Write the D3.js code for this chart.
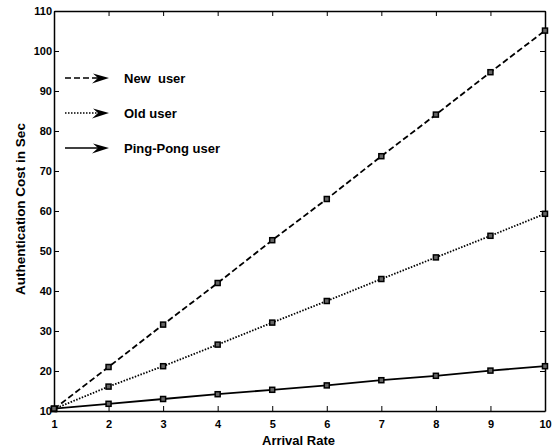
<!DOCTYPE html>
<html>
<head>
<meta charset="utf-8">
<script src="https://cdn.jsdelivr.net/npm/d3@7"></script>
<style>
  body { margin: 0; background: #fff; }
  text { font-family: "Liberation Sans", Arial, sans-serif; font-weight: bold; fill: #000; }
</style>
</head>
<body>
<div class="chart"></div>
<script>
// data
var arrivalRate = [1, 2, 3, 4, 5, 6, 7, 8, 9, 10];
var newUser = [10.5, 21, 31.6, 42, 52.7, 63, 73.7, 84.1, 94.7, 105.1];
var oldUser = [10.5, 16.1, 21.2, 26.6, 32.1, 37.5, 43, 48.4, 53.8, 59.3];
var pingPongUser = [10.6, 11.8, 13, 14.2, 15.3, 16.4, 17.7, 18.8, 20.1, 21.2];
var seriesNames = ["New  user", "Old user", "Ping-Pong user"];
var yTicks = [10, 20, 30, 40, 50, 60, 70, 80, 90, 100, 110];

var svgWidth = 552;
var svgHeight = 448;
var margin = { top: 11, right: 7, bottom: 37, left: 54 };
var width = svgWidth - margin.left - margin.right;
var height = svgHeight - margin.top - margin.bottom;

var svg = d3.select(".chart")
  .append("svg")
  .attr("width", svgWidth)
  .attr("height", svgHeight)
  .append("g")
  .attr("transform", "translate(" + margin.left + "," + margin.top + ")");

var xScale = d3.scaleLinear().domain([1, 10]).range([0, width]);
var yScale = d3.scaleLinear().domain([10, 110]).range([height, 0]);

// axes, matlab style: ticks pointing inward on all four sides
var tickLen = 5;
var bottomAxis = d3.axisBottom(xScale).tickValues(arrivalRate).tickSizeInner(-tickLen).tickSizeOuter(0).tickPadding(9);
var leftAxis = d3.axisLeft(yScale).tickValues(yTicks).tickSizeInner(-tickLen).tickSizeOuter(0).tickPadding(2);
var topAxis = d3.axisTop(xScale).tickValues(arrivalRate).tickSizeInner(-tickLen).tickSizeOuter(0).tickFormat("");
var rightAxis = d3.axisRight(yScale).tickValues(yTicks).tickSizeInner(-tickLen).tickSizeOuter(0).tickFormat("");

function styleAxis(g) {
  g.select(".domain").attr("stroke", "#000").attr("stroke-width", 1.5);
  g.selectAll(".tick line").attr("stroke", "#000").attr("stroke-width", 1);
  g.selectAll(".tick text").style("font-size", "11px").style("font-weight", "bold").attr("fill", "#000");
}

svg.append("g").attr("transform", "translate(0," + height + ")").call(bottomAxis).call(styleAxis);
svg.append("g").call(leftAxis).call(styleAxis);
svg.append("g").call(topAxis).call(styleAxis);
svg.append("g").attr("transform", "translate(" + width + ",0)").call(rightAxis).call(styleAxis);

var series = [
  { name: seriesNames[0], values: newUser, dash: "6,3" },
  { name: seriesNames[1], values: oldUser, dash: "1.5,1.5" },
  { name: seriesNames[2], values: pingPongUser, dash: null }
];

var line = d3.line()
  .x(function(d, i) { return xScale(arrivalRate[i]); })
  .y(function(d) { return yScale(d); });

series.forEach(function(s) {
  svg.append("path")
    .datum(s.values)
    .attr("fill", "none")
    .attr("stroke", "#000")
    .attr("stroke-width", 1.8)
    .attr("stroke-dasharray", s.dash)
    .attr("d", line);

  svg.selectAll(null)
    .data(s.values)
    .enter()
    .append("rect")
    .attr("x", function(d, i) { return xScale(arrivalRate[i]) - 2.5; })
    .attr("y", function(d) { return yScale(d) - 2.5; })
    .attr("width", 5)
    .attr("height", 5)
    .attr("fill", "#666")
    .attr("stroke", "#000")
    .attr("stroke-width", 1.5);
});

// legend with barbed arrows
var legend = svg.append("g").attr("transform", "translate(11,67)");
series.forEach(function(s, i) {
  var y = i * 35;
  legend.append("line")
    .attr("x1", 0).attr("x2", 40)
    .attr("y1", y).attr("y2", y)
    .attr("stroke", "#000")
    .attr("stroke-width", 1.6)
    .attr("stroke-dasharray", s.dash);
  legend.append("path")
    .attr("d", "M44," + y + " l-16,-4.5 l5,4.5 l-6,5.5 z")
    .attr("fill", "#000");
  legend.append("text")
    .attr("x", 59)
    .attr("y", y + 5)
    .style("font-size", "13px")
    .style("white-space", "pre")
    .attr("xml:space", "preserve")
    .text(s.name);
});

svg.append("text")
  .attr("transform", "rotate(-90)")
  .attr("x", -(height / 2) + 2)
  .attr("y", -margin.left + 25)
  .attr("text-anchor", "middle")
  .style("font-size", "13.5px")
  .text("Authentication Cost in Sec");

svg.append("text")
  .attr("x", width / 2 - 1)
  .attr("y", height + 34)
  .attr("text-anchor", "middle")
  .style("font-size", "13px")
  .text("Arrival Rate");
</script>
</body>
</html>
